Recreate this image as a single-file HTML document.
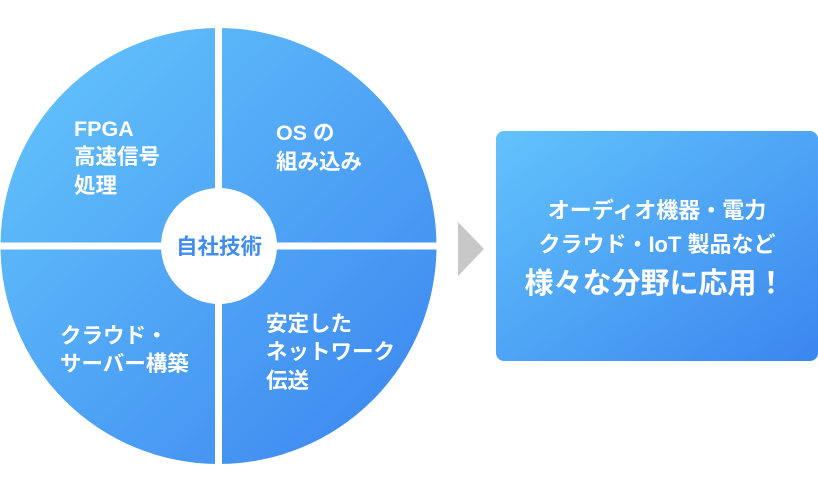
<!DOCTYPE html>
<html><head><meta charset="utf-8"><style>
body{margin:0;width:818px;height:495px;background:#fff;overflow:hidden;font-family:"Liberation Sans","Noto Sans CJK JP",sans-serif;}
</style></head><body>
<svg width="818" height="495" viewBox="0 0 818 495" xmlns="http://www.w3.org/2000/svg">
<defs>
<linearGradient id="g" x1="0" y1="0" x2="1" y2="1">
<stop offset="0" stop-color="#66c7fc"/><stop offset="1" stop-color="#3a84ef"/>
</linearGradient>
<linearGradient id="g2" x1="0" y1="0" x2="1" y2="1">
<stop offset="0" stop-color="#62c3fb"/><stop offset="1" stop-color="#3b86ef"/>
</linearGradient>
</defs>
<circle cx="218.5" cy="246" r="218" fill="url(#g)"/>
<rect x="215" y="20" width="7" height="460" fill="#fff"/>
<rect x="0" y="242.5" width="440" height="7" fill="#fff"/>
<circle cx="219" cy="246" r="58" fill="#fff"/>
<g font-family="Liberation Sans, Noto Sans CJK JP, sans-serif" font-weight="bold" fill="#fff" font-size="21.5">
<text x="74" y="136">FPGA</text>
<text x="74" y="164">高速信号</text>
<text x="74" y="193">処理</text>
<text x="276" y="140">OS の</text>
<text x="276" y="169">組み込み</text>
<text x="60" y="343">クラウド・</text>
<text x="60" y="371">サーバー構築</text>
<text x="266" y="331">安定した</text>
<text x="266" y="359">ネットワーク</text>
<text x="266" y="388">伝送</text>
<text x="219" y="254" text-anchor="middle" fill="#3f8df0">自社技術</text>
</g>
<polygon points="458,222 484,249 458,276" fill="#c8c8c8"/>
<rect x="496" y="131" width="322" height="230" rx="8" fill="url(#g2)"/>
<g font-family="Liberation Sans, Noto Sans CJK JP, sans-serif" font-weight="bold" fill="#fff" text-anchor="middle">
<text x="657" y="218" font-size="22">オーディオ機器・電力</text>
<text x="657" y="252" font-size="22">クラウド・IoT 製品など</text>
<text x="655" y="293" font-size="29">様々な分野に応用！</text>
</g>
</svg>
</body></html>
